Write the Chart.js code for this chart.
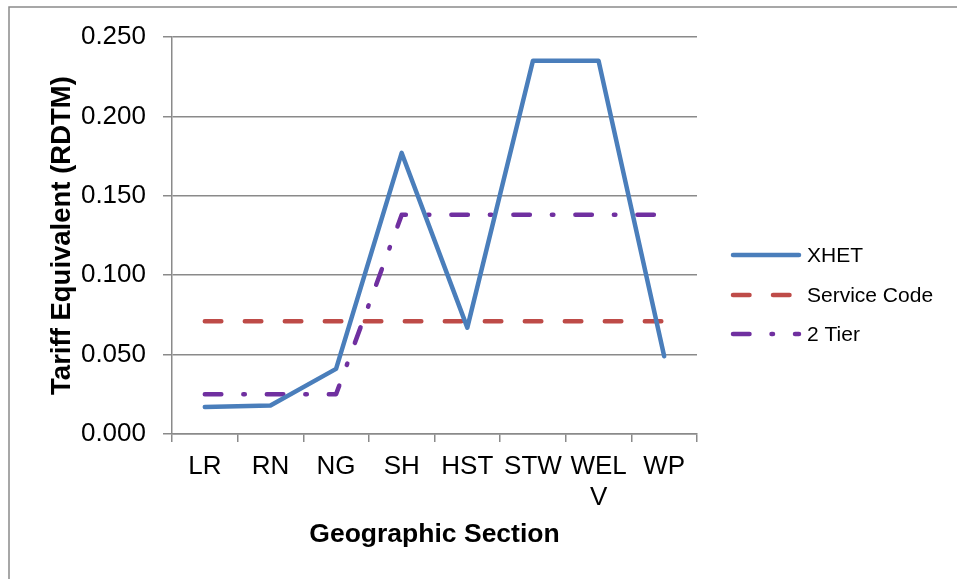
<!DOCTYPE html>
<html>
<head>
<meta charset="utf-8">
<script src="https://cdn.jsdelivr.net/npm/chart.js@4/dist/chart.umd.min.js"></script>
<style>
  html, body { margin: 0; padding: 0; background: #ffffff; }
  #wrap { width: 957px; height: 579px; position: relative; }
</style>
</head>
<body>
<div id="wrap"><canvas id="chart" width="957" height="579"></canvas></div>
<script>
// Geographic sections along the x axis
const sections = ['LR', 'RN', 'NG', 'SH', 'HST', 'STW', ['WEL', 'V'], 'WP'];

// Tariff equivalent (RDTM) per section
const xhet        = [0.017, 0.018, 0.041, 0.177, 0.067, 0.235, 0.235, 0.049];
const serviceCode = [0.071, 0.071, 0.071, 0.071, 0.071, 0.071, 0.071, 0.071];
const twoTier     = [0.025, 0.025, 0.025, 0.138, 0.138, 0.138, 0.138, 0.138];

// Value axis labels
const yTickLabels = ['0.000', '0.050', '0.100', '0.150', '0.200', '0.250'];

const FONT = "'Liberation Sans', Arial, sans-serif";
const GRID = '#8a8a8a';
const LW = 4.5;

const seriesStyle = [
  { label: 'XHET',         data: xhet,        color: '#4a7ebb', dash: [] },
  { label: 'Service Code', data: serviceCode, color: '#be4b48', dash: [16.5, 23.5] },
  { label: '2 Tier',       data: twoTier,     color: '#7030a0', dash: [16.5, 22, 1.5, 22] }
];

// Outer frame and right-hand legend
const framePlugin = {
  id: 'frameAndLegend',
  beforeDraw(chart) {
    const ctx = chart.ctx;
    ctx.save();
    ctx.fillStyle = '#ffffff';
    ctx.fillRect(0, 0, chart.width, chart.height);
    ctx.strokeStyle = GRID;
    ctx.lineWidth = 1.5;
    ctx.strokeRect(9, 7, chart.width + 20, chart.height + 20);
    ctx.restore();
  },
  afterDraw(chart) {
    const ctx = chart.ctx;
    const rows = [255, 295, 334];
    ctx.save();
    chart.data.datasets.forEach((ds, i) => {
      const y = rows[i];
      ctx.beginPath();
      ctx.setLineDash(ds.borderDash || []);
      ctx.lineDashOffset = 0;
      ctx.lineCap = 'round';
      ctx.strokeStyle = ds.borderColor;
      ctx.lineWidth = LW;
      ctx.moveTo(733, y);
      ctx.lineTo(799, y);
      ctx.stroke();
      ctx.setLineDash([]);
      ctx.fillStyle = '#000000';
      ctx.font = '21px ' + FONT;
      ctx.textBaseline = 'middle';
      ctx.textAlign = 'left';
      ctx.fillText(ds.label, 807, y + 1);
    });
    ctx.restore();
  }
};

new Chart(document.getElementById('chart'), {
  type: 'line',
  data: {
    labels: sections,
    datasets: seriesStyle.map(s => ({
      label: s.label,
      data: s.data,
      borderColor: s.color,
      backgroundColor: s.color,
      borderWidth: LW,
      borderDash: s.dash,
      borderCapStyle: 'round',
      borderJoinStyle: 'round',
      pointRadius: 0,
      pointHoverRadius: 0,
      tension: 0,
      fill: false
    }))
  },
  options: {
    responsive: false,
    animation: false,
    events: [],
    layout: { padding: { left: 0, top: 37, right: 260, bottom: 0 } },
    plugins: {
      legend: { display: false },
      tooltip: { enabled: false }
    },
    scales: {
      x: {
        type: 'category',
        offset: true,
        grid: {
          display: true,
          offset: true,
          drawOnChartArea: false,
          drawTicks: true,
          tickLength: 8,
          color: GRID,
          lineWidth: 1.5
        },
        border: { display: true, color: GRID, width: 1.5 },
        ticks: {
          color: '#000000',
          font: { family: FONT, size: 26, lineHeight: 1.2 },
          padding: 9,
          maxRotation: 0,
          minRotation: 0,
          autoSkip: false
        },
        title: {
          display: true,
          text: 'Geographic Section',
          color: '#000000',
          font: { family: FONT, size: 26.5, weight: 'bold', lineHeight: 1.2 },
          padding: { top: 0, bottom: 28 }
        },
        afterFit(scale) { scale.height = 145; }
      },
      y: {
        min: 0,
        max: 0.25,
        grid: {
          display: true,
          drawTicks: true,
          tickLength: 9,
          color: GRID,
          lineWidth: 1.5
        },
        border: { display: true, color: GRID, width: 1.5 },
        ticks: {
          stepSize: 0.05,
          color: '#000000',
          font: { family: FONT, size: 26 },
          padding: 17,
          callback: (v, i) => yTickLabels[i]
        },
        title: {
          display: true,
          text: 'Tariff Equivalent (RDTM)',
          color: '#000000',
          font: { family: FONT, size: 27.5, weight: 'bold', lineHeight: 1.2 },
          padding: { top: 46, bottom: 0 }
        },
        afterFit(scale) { scale.width = 172; }
      }
    }
  },
  plugins: [framePlugin]
});
</script>
</body>
</html>
